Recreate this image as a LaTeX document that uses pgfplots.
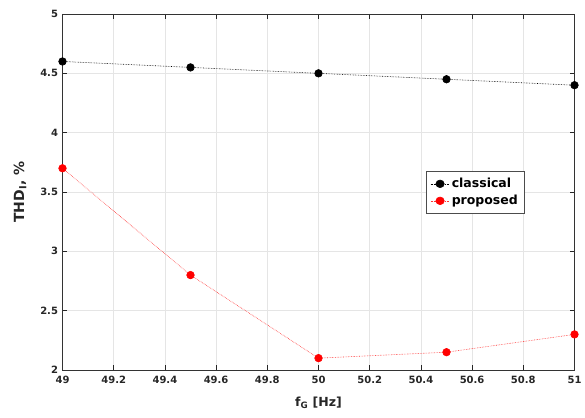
\documentclass[border=0pt]{standalone}
\usepackage{pgfplots}
\pgfplotsset{compat=1.18}
\usepackage{fontspec}
\setmainfont{DejaVu Sans}
\begin{document}
\begin{tikzpicture}
\begin{axis}[
  scale only axis, width=512pt, height=356pt,
  xmin=49, xmax=51, ymin=2, ymax=5,
  xtick={49,49.2,...,51.01}, ytick={2,2.5,...,5},
  xticklabel style={/pgf/number format/fixed, /pgf/number format/precision=1, yshift=-3pt},
  yticklabel style={xshift=-1pt},
  /pgf/number format/assume math mode=true,
  ticklabel style={font=\bfseries\fontsize{10}{12}\selectfont, text=black!85},
  tick align=inside, tick pos=both, major tick length=5pt,
  tick style={black!85, line width=0.7pt},
  grid=major, grid style={gray!20, line width=0.7pt},
  axis line style={black!80, line width=0.8pt},
  xlabel={\bfseries f\textsubscript{G} [Hz]},
  ylabel={\bfseries THD\textsubscript{I}, \%},
  label style={font=\bfseries\fontsize{12.5}{15}\selectfont, text=black!85},
  xlabel style={at={(axis description cs:0.5,0)}, anchor=center, yshift=-33pt},
  ylabel style={at={(axis description cs:-0.083,0.5)}, anchor=center, font=\bfseries\fontsize{14}{16}\selectfont},
  legend style={at={(0.71,0.559)}, anchor=north west, draw=black!70, line width=0.7pt,
    font=\bfseries\fontsize{12.5}{14}\selectfont, inner xsep=4pt, inner ysep=5pt, row sep=2pt},
  legend image post style={xscale=1.1},
  legend cell align=left,
]
\addplot[black, densely dotted, line width=0.6pt, mark=*, mark size=3.8pt, mark options={solid, fill=black}]
  coordinates {(49,4.6) (49.5,4.55) (50,4.5) (50.5,4.45) (51,4.4)};
\addlegendentry{classical}
\addplot[red!80, densely dotted, line width=0.6pt, mark=*, mark size=3.8pt, mark options={solid, draw=red, fill=red}]
  coordinates {(49,3.7) (49.5,2.8) (50,2.1) (50.5,2.15) (51,2.3)};
\addlegendentry{proposed}
\end{axis}
\pgfresetboundingbox
\useasboundingbox ([xshift=-62.5pt,yshift=-47pt]current axis.south west) rectangle ([xshift=10.5pt,yshift=14pt]current axis.north east);
\end{tikzpicture}
\end{document}
